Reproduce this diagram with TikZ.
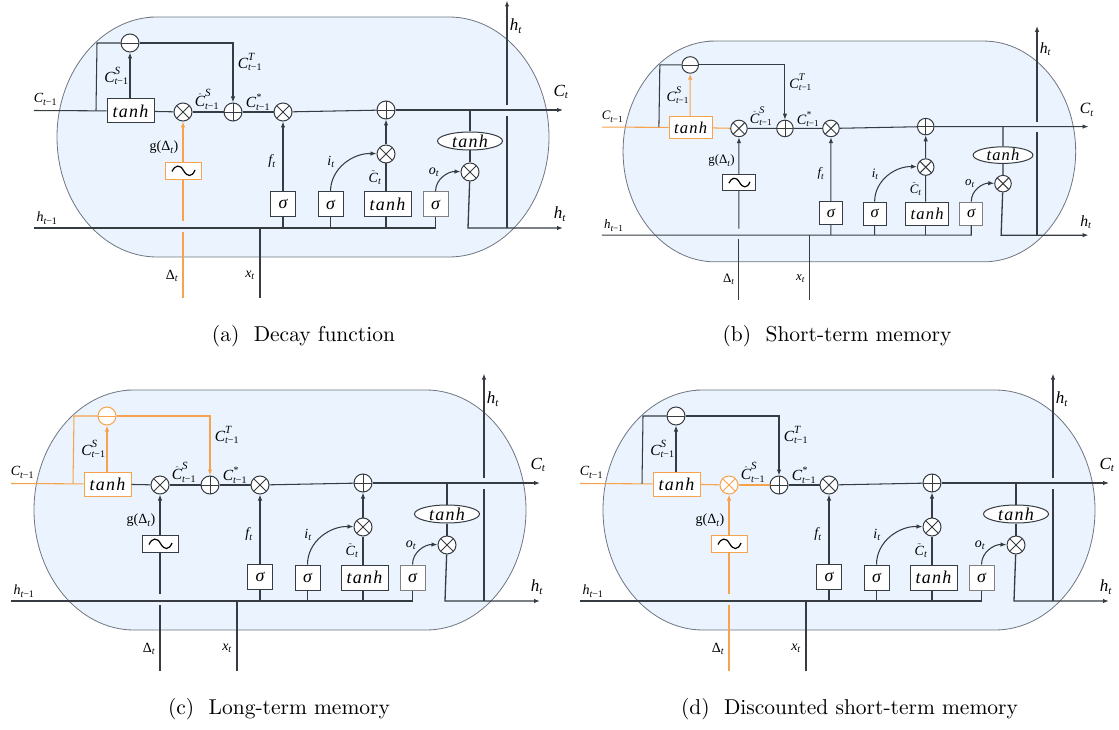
\documentclass[tikz,border=0pt]{standalone}
\usepackage{graphicx}
\usepackage{fontspec}
\usetikzlibrary{arrows.meta,calc,shapes.geometric}
\newfontfamily\lib{Liberation Serif}
\newfontfamily\libsp[LetterSpace=7]{Liberation Serif}
\definecolor{dark}{HTML}{363C42}
\definecolor{org}{HTML}{F7A24C}
\definecolor{capfill}{HTML}{EAF3FE}
\definecolor{capline}{HTML}{6F7680}
\colorlet{colIn}{dark}\colorlet{colTanh}{dark}\colorlet{colUp}{dark}\colorlet{colMinus}{dark}
\colorlet{colLoop}{dark}\colorlet{colGout}{dark}\colorlet{colOt}{dark}\colorlet{colHat}{dark}
\colorlet{colSup}{dark}\colorlet{colSine}{dark}\colorlet{colDelta}{dark}
% label letters in a Times-metric italic
\newcommand{\mn}[1]{\mbox{\fontsize{14}{14}\selectfont\lib\itshape #1}}
\newcommand{\md}[1]{\mbox{\fontsize{15.5}{15.5}\selectfont\lib\itshape #1}}
\newcommand{\sm}[1]{\mbox{\fontsize{10}{10}\selectfont\lib\itshape #1}}
\newcommand{\bg}[1]{\mbox{\fontsize{17}{17}\selectfont\lib\itshape #1}}
\newcommand{\bs}[1]{\mbox{\fontsize{11}{11}\selectfont\lib\itshape #1}}
\newcommand{\tn}{\mbox{\fontsize{18}{18}\selectfont\libsp\itshape tanh}}
\newcommand{\sg}{\mbox{\fontsize{18}{18}\selectfont\lib\itshape σ}}
\newcommand{\tmo}{\sm{t}\mbox{\fontsize{10}{10}\selectfont\lib −1}}
\tikzset{
  wire/.style={line width=1.05pt,draw=dark},
  arr/.style={-{Latex[length=6pt,width=4.5pt]}},
  boxn/.style={draw=dark,fill=white,line width=1pt,inner sep=0pt,minimum height=25pt},
  sigbox/.style={boxn,minimum width=25pt},
  tanhbox/.style={boxn,minimum width=47pt},
  circ/.style={circle,draw=dark,fill=white,line width=1pt,inner sep=0pt,minimum size=18pt},
  otimesn/.style={circ,path picture={\draw[line width=1pt,draw=#1]
    (path picture bounding box.south west)--(path picture bounding box.north east)
    (path picture bounding box.north west)--(path picture bounding box.south east);}},
  oplusn/.style={circ,path picture={\draw[line width=.9pt,draw=dark]
    (path picture bounding box.south)--(path picture bounding box.north)
    (path picture bounding box.west)--(path picture bounding box.east);}},
  ominusn/.style={circ,path picture={\draw[line width=.9pt,draw=#1]
    (path picture bounding box.west)--(path picture bounding box.east);}},
  lab/.style={inner sep=0pt},
  captext/.style={inner sep=0pt},
}
\newcommand{\capt}[1]{\scalebox{2.15}{#1}}
\newcommand{\panel}[4]{%
\begin{scope}[shift={(#2,#3)},scale=#4,transform shape]
  \draw[draw=capline,fill=capfill,line width=.8pt]
    (150,17) -- (449,17) .. controls (504,17) and (549,71) .. (549,137)
    .. controls (549,203) and (504,257) .. (449,257) -- (157,257)
    .. controls (102,257) and (57,203) .. (57,137)
    .. controls (57,71) and (102,17) .. (157,17) -- cycle;
  % nodes
  \node[tanhbox,draw=colTanh,minimum height=24pt] (#1tanh) at (130.5,111) {\tn};
  \node[otimesn=colOt,draw=colOt] (#1ot) at (183,112) {};
  \node[oplusn] (#1pl) at (233,112) {};
  \node[otimesn=dark] (#1of) at (283,112) {};
  \node[oplusn] (#1pr) at (386,110) {};
  \node[ominusn=colMinus,draw=colMinus] (#1mi) at (130,43) {};
  \node[boxn,draw=colSine,minimum width=36pt,minimum height=17pt] (#1sine) at (183,171) {};
  \draw[line width=1.2pt,draw=black] (172,171.5) .. controls (175,165) and (180,164) .. (183.5,170.5)
     .. controls (187,177) and (192,177.5) .. (195,170);
  \node[sigbox] (#1sa) at (283,204) {\sg};
  \node[sigbox] (#1sb) at (330.5,204.5) {\sg};
  \node[tanhbox] (#1tb) at (387.5,204.5) {\tn};
  \node[sigbox,draw=gray] (#1sc) at (435.5,204.5) {\sg};
  \node[otimesn=dark] (#1oi) at (386,154) {};
  \node[otimesn=dark] (#1oo) at (470,172) {};
  \node[ellipse,draw=dark,fill=white,line width=1pt,inner sep=0pt,minimum width=65pt,minimum height=18pt] (#1el) at (470,141) {\tn};
  % free ends
  \coordinate (#1cs) at (34,110.5);
  \coordinate (#1ris) at (96,110.5);
  \coordinate (#1tl) at (97,43);
  \coordinate (#1ce) at (563,110);
  \coordinate (#1cj) at (470,110);
  \coordinate (#1hs) at (34,228);
  \coordinate (#1he) at (435.5,228);
  \coordinate (#1xs) at (260,298);
  \coordinate (#1xe) at (260,228);
  \coordinate (#1ds) at (183,298);
  \coordinate (#1dg) at (183,232);
  \coordinate (#1du) at (183,221);
  \coordinate (#1ob) at (468,228);
  \coordinate (#1oe) at (563,228);
  \coordinate (#1vb) at (507,228);
  \coordinate (#1vm) at (507,116);
  \coordinate (#1vn) at (507,105);
  \coordinate (#1vt) at (507,0.5);
  % C line
  \draw[wire,draw=colIn] (#1cs) -- (#1tanh);
  \draw[wire,draw=colLoop] (#1ris) -- (#1tl) -- (#1mi);
  \draw[wire,arr,draw=colLoop] (#1mi) -| (#1pl);
  \draw[wire,arr,draw=colUp] (#1tanh.north -| #1mi) -- (#1mi);
  \draw[wire,draw=colGout] (#1tanh) -- (#1ot);
  \draw[wire,draw=colHat] (#1ot) -- (#1pl);
  \draw[wire] (#1pl) -- (#1of);
  \draw[wire] (#1of) -- (#1pr);
  \draw[wire,arr] (#1pr) -- (#1ce);
  \draw[wire] (#1cj) -- (#1el);
  \draw[wire] (#1el) -- (#1oo);
  % decay
  \draw[wire,arr,draw=colSup] (#1sine) -- (#1ot);
  \draw[wire,draw=colDelta] (#1sine) -- (#1du);
  \draw[wire,draw=colDelta] (#1dg) -- (#1ds);
  % h line
  \draw[wire] (#1hs) -- (#1he) -- (#1sc);
  \draw[wire] (#1xs) -- (#1xe);
  \draw[wire,arr] (#1sa) -- (#1of);
  \draw[wire] (#1sa) -- (#1sa |- #1hs);
  \draw[wire] (#1sb) -- (#1sb |- #1hs);
  \draw[wire] (#1tb.south -| #1oi) -- (#1oi |- #1hs);
  \draw[wire] (#1tb.north -| #1oi) -- (#1oi);
  \draw[wire,arr] (#1oi) -- (#1pr);
  \draw[wire,arr] (#1sb.north) to[out=90,in=178] (#1oi);
  \draw[wire,arr] (#1sc.north) to[out=90,in=178] (#1oo);
  \draw[wire,line width=1.3pt,arr] (#1oo) -- (#1ob) -- (#1oe);
  \draw[wire,line width=1.3pt] (#1vb) -- (#1vm);
  \draw[wire,line width=1.3pt,arr] (#1vn) -- (#1vt);
  % labels
  \node[lab] (#1lca) at (45.5,99) {$\mn{C}_{\tmo}$};
  \node[lab] (#1lcs) at (116.5,76) {$\md{C}^{\bs{S}}_{\tmo}$};
  \node[lab] (#1lct) at (250,62) {$\md{C}^{\bs{T}}_{\tmo}$};
  \node[lab] (#1lch) at (207,99) {$\hat{\md{C}}^{\bs{S}}_{\tmo}$};
  \node[lab] (#1lcx) at (258,102) {$\md{C}^{\sm{*}}_{\tmo}$};
  \node[lab] (#1lg) at (164,147) {$\mbox{\fontsize{14}{14}\selectfont\lib g(Δ}_{\sm{t}}\mbox{\fontsize{14}{14}\selectfont\lib )}$};
  \node[lab] (#1lf) at (272,161) {$\mn{f}_{\sm{t}}$};
  \node[lab] (#1li) at (331,162) {$\mn{i}_{\sm{t}}$};
  \node[lab] (#1ltc) at (375,178) {$\tilde{\mn{C}}_{\sm{t}}$};
  \node[lab] (#1lo) at (434,172) {$\mn{o}_{\sm{t}}$};
  \node[lab] (#1lC) at (561,92) {$\bg{C}_{\bs{t}}$};
  \node[lab] (#1lhv) at (516,26) {$\bg{h}_{\bs{t}}$};
  \node[lab] (#1lhr) at (560,214) {$\bg{h}_{\bs{t}}$};
  \node[lab] (#1lhp) at (47,218) {$\mn{h}_{\tmo}$};
  \node[lab] (#1ld) at (172,276) {$\mbox{\fontsize{14}{14}\selectfont\lib Δ}_{\sm{t}}$};
  \node[lab] (#1lx) at (250,275) {$\mn{x}_{\sm{t}}$};
\end{scope}}
\begin{document}
\begin{tikzpicture}[x=1pt,y=-1pt]
\useasboundingbox (0,0) rectangle (1119,730);
\begin{scope}
  \colorlet{colSup}{org}\colorlet{colSine}{org}\colorlet{colDelta}{org}
  \panel{a}{0}{0}{1}
\end{scope}
\begin{scope}
  \colorlet{colIn}{org}\colorlet{colTanh}{org}\colorlet{colUp}{org}\colorlet{colGout}{org}
  \panel{b}{570.6}{25.4}{0.92}
\end{scope}
\begin{scope}
  \colorlet{colIn}{org}\colorlet{colTanh}{org}\colorlet{colUp}{org}\colorlet{colMinus}{org}\colorlet{colLoop}{org}
  \panel{c}{-23}{373}{1}
\end{scope}
\begin{scope}
  \colorlet{colIn}{org}\colorlet{colTanh}{org}\colorlet{colGout}{org}\colorlet{colOt}{org}\colorlet{colHat}{org}
  \colorlet{colSup}{org}\colorlet{colSine}{org}\colorlet{colDelta}{org}
  \panel{d}{546}{373}{1}
\end{scope}
\node[captext] (capa) at (303.5,336) {\capt{(a)\ \ Decay function}};
\node[captext] (capb) at (837,336) {\capt{(b)\ \ Short-term memory}};
\node[captext] (capc) at (279,709) {\capt{(c)\ \ Long-term memory}};
\node[captext] (capd) at (849.5,709) {\capt{(d)\ \ Discounted short-term memory}};
\end{tikzpicture}
\end{document}
